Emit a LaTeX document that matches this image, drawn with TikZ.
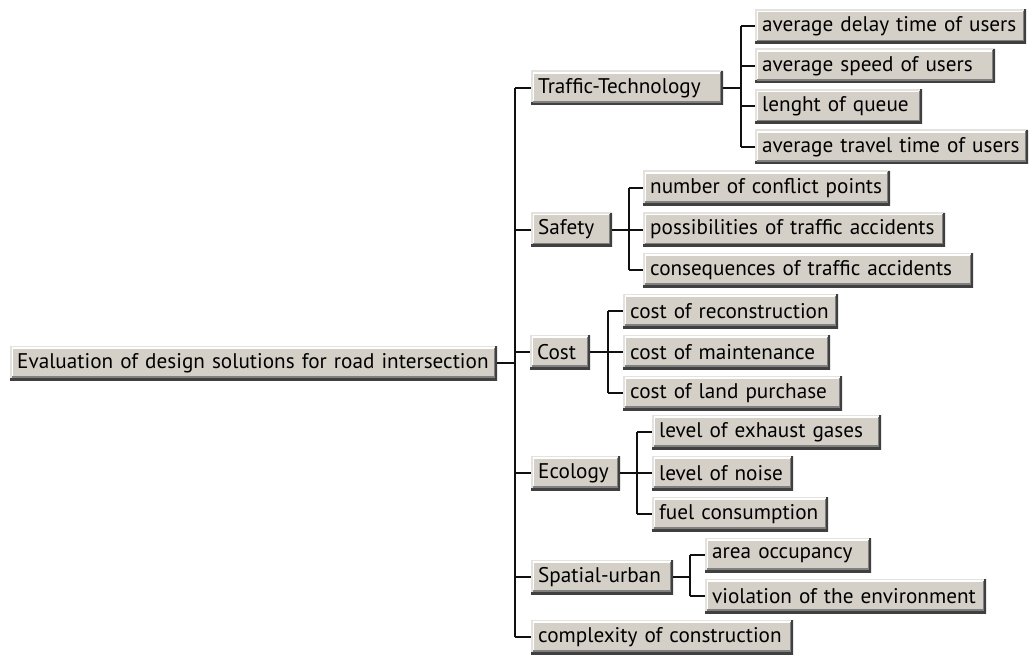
\documentclass[tikz,border=0pt]{standalone}
\usepackage{fontspec}
\setmainfont{PT Sans}
\definecolor{btnface}{HTML}{D4D0C8}
\definecolor{btndark}{HTML}{404040}
\definecolor{btngray}{HTML}{808080}
\definecolor{btnlight}{HTML}{E4E2DE}
\definecolor{linec}{HTML}{101010}
\newcommand\lbl[1]{\makebox[\linewidth][l]{#1}}
\begin{document}
\begin{tikzpicture}[x=1bp,y=-1bp,
  btn/.style={anchor=west, fill=btnface, minimum height=34bp, inner xsep=7bp, inner ysep=0pt,
    align=left, font=\fontsize{21.2bp}{24bp}\selectfont,
    path picture={
      \draw[btnlight,line width=3bp] (path picture bounding box.south west) -- (path picture bounding box.north west) -- (path picture bounding box.north east);
      \draw[white,line width=1.2bp] ([xshift=2bp,yshift=2bp]path picture bounding box.south west) -- ([xshift=2bp,yshift=-2bp]path picture bounding box.north west) -- ([xshift=-2bp,yshift=-2bp]path picture bounding box.north east);
      \draw[btndark,line width=5bp] (path picture bounding box.north east) -- (path picture bounding box.south east) -- (path picture bounding box.south west);
      \draw[btngray,line width=1.2bp] ([xshift=-3bp,yshift=-1.5bp]path picture bounding box.north east) -- ([xshift=-3bp,yshift=3bp]path picture bounding box.south east) -- ([xshift=1.5bp,yshift=3bp]path picture bounding box.south west);
    }},
  conn/.style={draw=linec, line width=2bp}]
\useasboundingbox[fill=white] (0,0) rectangle (1031,655);

% root
\node[btn, text width=473bp] (root) at (10,363) {\lbl{Evaluation of design solutions for road intersection}};

% level 1
\node[btn, text width=178bp] (tt) at (531,88) {\lbl{Traffic-Technology}};
\node[btn, text width=67bp] (safety) at (531,229.5) {\lbl{Safety}};
\node[btn, text width=46bp] (cost) at (530,352) {\lbl{Cost}};
\node[btn, text width=75bp] (eco) at (531,473) {\lbl{Ecology}};
\node[btn, text width=128bp] (spatial) at (531,577) {\lbl{Spatial-urban}};
\node[btn, text width=248bp] (cx) at (531,637) {\lbl{complexity of construction}};

% level 2: traffic-technology
\node[btn, text width=257bp] (d1) at (755,26.5) {\lbl{average delay time of users}};
\node[btn, text width=226bp] (d2) at (755,66) {\lbl{average speed of users}};
\node[btn, text width=153bp] (d3) at (755,106.5) {\lbl{lenght of queue}};
\node[btn, text width=259bp] (d4) at (755,147) {\lbl{average travel time of users}};
% safety
\node[btn, text width=233bp] (s1) at (643,188) {\lbl{number of conflict points}};
\node[btn, text width=288bp] (s2) at (643,229.5) {\lbl{possibilities of traffic accidents}};
\node[btn, text width=316bp] (s3) at (643,270) {\lbl{consequences of traffic accidents}};
% cost
\node[btn, text width=201bp] (c1) at (623,311) {\lbl{cost of reconstruction}};
\node[btn, text width=193bp] (c2) at (623,352) {\lbl{cost of maintenance}};
\node[btn, text width=205bp] (c3) at (623,393) {\lbl{cost of land purchase}};
% ecology
\node[btn, text width=215bp] (e1) at (652,432) {\lbl{level of exhaust gases}};
\node[btn, text width=127bp] (e2) at (652,473) {\lbl{level of noise}};
\node[btn, text width=162bp] (e3) at (652,514) {\lbl{fuel consumption}};
% spatial
\node[btn, text width=152bp] (p1) at (705,555) {\lbl{area occupancy}};
\node[btn, text width=267bp] (p2) at (705,596) {\lbl{violation of the environment}};

% junction x positions
\coordinate (jr) at (515,0);
\coordinate (jt) at (741,0);
\coordinate (js) at (629,0);
\coordinate (jc) at (608,0);
\coordinate (je) at (637,0);
\coordinate (jp) at (690,0);

% root to level 1
\draw[conn] (root.east) -- (root.east -| jr);
\draw[conn] (tt.west -| jr) -- (cx.west -| jr);
\foreach \n in {tt,safety,cost,eco,spatial,cx} \draw[conn] (\n.west -| jr) -- (\n.west);

% traffic-technology
\draw[conn] (tt.east) -- (tt.east -| jt);
\draw[conn] (d1.west -| jt) -- (d4.west -| jt);
\foreach \n in {d1,d2,d3,d4} \draw[conn] (\n.west -| jt) -- (\n.west);
% safety
\draw[conn] (safety.east) -- (safety.east -| js);
\draw[conn] (s1.west -| js) -- (s3.west -| js);
\foreach \n in {s1,s2,s3} \draw[conn] (\n.west -| js) -- (\n.west);
% cost
\draw[conn] (cost.east) -- (cost.east -| jc);
\draw[conn] (c1.west -| jc) -- (c3.west -| jc);
\foreach \n in {c1,c2,c3} \draw[conn] (\n.west -| jc) -- (\n.west);
% ecology
\draw[conn] (eco.east) -- (eco.east -| je);
\draw[conn] (e1.west -| je) -- (e3.west -| je);
\foreach \n in {e1,e2,e3} \draw[conn] (\n.west -| je) -- (\n.west);
% spatial
\draw[conn] (spatial.east) -- (spatial.east -| jp);
\draw[conn] (p1.west -| jp) -- (p2.west -| jp);
\foreach \n in {p1,p2} \draw[conn] (\n.west -| jp) -- (\n.west);
\end{tikzpicture}
\end{document}
